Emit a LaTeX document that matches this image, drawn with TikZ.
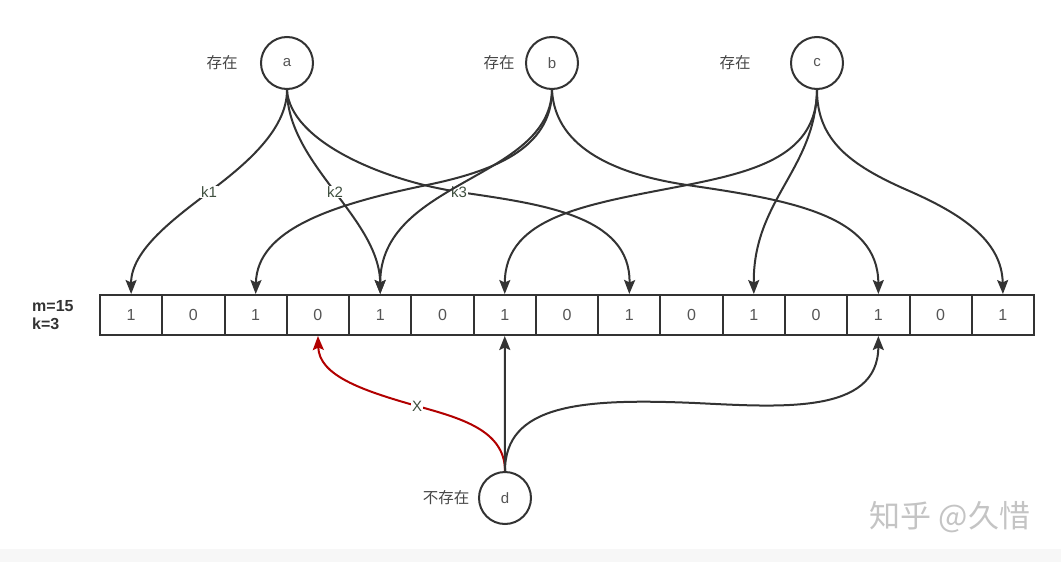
\documentclass[tikz,border=0pt]{standalone}
\usepackage{fontspec}
\setmainfont{Liberation Sans}
\newfontfamily\cjk{Noto Sans CJK SC}
\usetikzlibrary{arrows.meta}
\definecolor{ln}{HTML}{333333}
\definecolor{txt}{HTML}{555555}
\definecolor{lbl}{HTML}{3F4F3F}
\definecolor{redln}{HTML}{B20000}
\definecolor{wm}{HTML}{C4C4C4}
\tikzset{
  elem/.style={circle,draw=ln,line width=2pt,minimum size=52pt,inner sep=0pt,font=\fontsize{15}{17}\selectfont,text=txt},
  cellbox/.style={rectangle,draw=ln,line width=2pt,minimum width=62.27pt,minimum height=40pt,inner sep=0pt,font=\fontsize{16}{18}\selectfont,text=txt},
  arr/.style={draw=ln,line width=2pt,-{Stealth[length=14pt,width=11pt,inset=2.5pt]}},
  redarr/.style={draw=redln,line width=2pt,-{Stealth[length=14pt,width=11pt,inset=2.5pt]}},
  edgelbl/.style={fill=white,inner sep=1pt,text=lbl,font=\fontsize{15}{17}\selectfont},
  tag/.style={text=ln!90,font=\cjk\fontsize{15.5}{17}\selectfont,inner sep=0pt},
}
\begin{document}
\begin{tikzpicture}[x=1pt,y=-1pt]
\useasboundingbox (0,0) rectangle (1061,562);
\fill[white] (0,0) rectangle (1061,562);
\fill[gray!6] (0,549) rectangle (1061,562);
% elements
\node[elem] (a) at (287,63) {a};
\node[elem] (b) at (552,63) {b};
\node[elem] (c) at (817,63) {c};
\node[elem] (d) at (505,498) {d};
\node[tag] (ta) at (222,63) {存在};
\node[tag] (tb) at (499,63) {存在};
\node[tag] (tc) at (735,63) {存在};
\node[tag] (td) at (446,498) {不存在};
% array
\foreach \i/\v in {0/1,1/0,2/1,3/0,4/1,5/0,6/1,7/0,8/1,9/0,10/1,11/0,12/1,13/0,14/1}{
  \node[cellbox] (cell\i) at ({100+62.27*(\i+0.5)},315) {\v};
}
\node[align=left,font=\bfseries\fontsize{16}{18}\selectfont,text=ln,inner sep=0pt,anchor=west] (mk) at (32,315) {m=15\\k=3};
% a
\draw[arr] (a.south) .. controls (287,130) and (245,165) .. (209,192) node[edgelbl]{k1}
  .. controls (175,218) and (131,250) .. (cell0.north);
\draw[arr] (a.south) .. controls (287,130) and (315,165) .. (335,192) node[edgelbl]{k2}
  .. controls (355,219) and (380,250) .. (cell4.north);
\draw[arr] (a.south) .. controls (290,140) and (380,180) .. (459,192) node[edgelbl]{k3}
  .. controls (540,204) and (631,215) .. (cell8.north);
% b
\draw[arr] (b.south) .. controls (552,150) and (490,172) .. (427,185)
  .. controls (330,205) and (257,230) .. (cell2.north);
\draw[arr] (b.south) .. controls (550,180) and (380,180) .. (cell4.north);
\draw[arr] (b.south) .. controls (555,150) and (620,175) .. (687,185)
  .. controls (790,200) and (878,215) .. (cell12.north);
% c
\draw[arr] (c.south) .. controls (817,155) and (757,171) .. (687,185)
  .. controls (590,204) and (505,215) .. (cell6.north);
\draw[arr] (c.south) .. controls (815,170) and (753,200) .. (cell10.north);
\draw[arr] (c.south) .. controls (817,140) and (850,165) .. (907,190)
  .. controls (960,213) and (1002,240) .. (cell14.north);
% d
\draw[redarr] (d.north) .. controls (505,430) and (460,418) .. (417,406) node[edgelbl]{X}
  .. controls (360,390) and (319,375) .. (cell3.south);
\draw[arr] (d.north) -- (cell6.south);
\draw[arr] (d.north) .. controls (505,405) and (580,398) .. (695,403)
  .. controls (780,407) and (878,415) .. (cell12.south);
% watermark
\node[text=wm,font=\cjk\fontsize{31}{33}\selectfont,inner sep=0pt] (wmk) at (950,517) {知乎 @久惜};
\end{tikzpicture}
\end{document}
